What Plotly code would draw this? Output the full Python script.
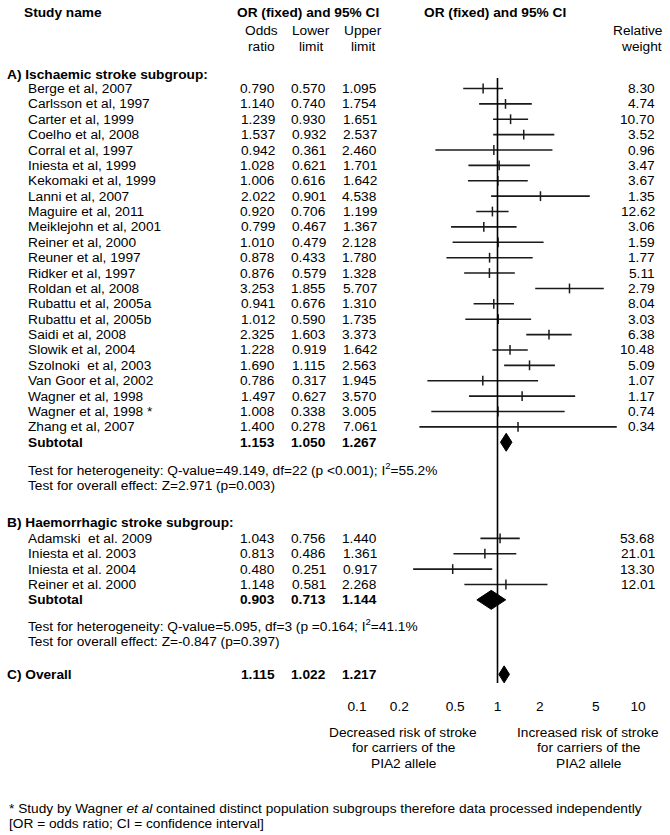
import plotly.graph_objects as go

# ---------------- data ----------------
studies_a = ["Berge et al, 2007", "Carlsson et al, 1997", "Carter et al, 1999", "Coelho et al, 2008",
             "Corral et al, 1997", "Iniesta et al, 1999", "Kekomaki et al, 1999", "Lanni et al, 2007",
             "Maguire et al, 2011", "Meiklejohn et al, 2001", "Reiner et al, 2000", "Reuner et al, 1997",
             "Ridker et al, 1997", "Roldan et al, 2008", "Rubattu et al, 2005a", "Rubattu et al, 2005b",
             "Saidi et al, 2008", "Slowik et al, 2004", "Szolnoki  et al, 2003", "Van Goor et al, 2002",
             "Wagner et al, 1998", "Wagner et al, 1998 *", "Zhang et al, 2007"]
or_a = [0.790, 1.140, 1.239, 1.537, 0.942, 1.028, 1.006, 2.022, 0.920, 0.799, 1.010, 0.878,
        0.876, 3.253, 0.941, 1.012, 2.325, 1.228, 1.690, 0.786, 1.497, 1.008, 1.400]
lo_a = [0.570, 0.740, 0.930, 0.932, 0.361, 0.621, 0.616, 0.901, 0.706, 0.467, 0.479, 0.433,
        0.579, 1.855, 0.676, 0.590, 1.603, 0.919, 1.115, 0.317, 0.627, 0.338, 0.278]
hi_a = [1.095, 1.754, 1.651, 2.537, 2.460, 1.701, 1.642, 4.538, 1.199, 1.367, 2.128, 1.780,
        1.328, 5.707, 1.310, 1.735, 3.373, 1.642, 2.563, 1.945, 3.570, 3.005, 7.061]
wt_a = [8.30, 4.74, 10.70, 3.52, 0.96, 3.47, 3.67, 1.35, 12.62, 3.06, 1.59, 1.77,
        5.11, 2.79, 8.04, 3.03, 6.38, 10.48, 5.09, 1.07, 1.17, 0.74, 0.34]

studies_b = ["Adamski  et al. 2009", "Iniesta et al. 2003", "Iniesta et al. 2004", "Reiner et al. 2000"]
or_b = [1.043, 0.813, 0.480, 1.148]
lo_b = [0.756, 0.486, 0.251, 0.581]
hi_b = [1.440, 1.361, 0.917, 2.268]
wt_b = [53.68, 21.01, 13.30, 12.01]

subtotal_a = [1.153, 1.050, 1.267]
subtotal_b = [0.903, 0.713, 1.144]
overall = [1.115, 1.022, 1.217]

het_a = "Test for heterogeneity: Q-value=49.149, df=22 (p <0.001); I<sup>2</sup>=55.2%"
eff_a = "Test for overall effect: Z=2.971 (p=0.003)"
het_b = "Test for heterogeneity: Q-value=5.095, df=3 (p =0.164; I<sup>2</sup>=41.1%"
eff_b = "Test for overall effect: Z=-0.847 (p=0.397)"

tick_vals = [0.1, 0.2, 0.5, 1, 2, 5, 10]
tick_text = ["0.1", "0.2", "0.5", "1", "2", "5", "10"]

# ---------------- layout constants ----------------
W, H = 670, 835
FONT = "Liberation Sans, Arial, sans-serif"
FS = 13.7
ROW = 15.38
BOTTOM = 696          # pixel of plot-area bottom (y data == pixel)
X0_PX, X1_PX = 357, 638  # pixel positions of 0.1 and 10
LINE = "#1a1a1a"

y_a_head = 74
y_a = [88.5 + i * ROW for i in range(len(studies_a))]
y_sub_a = y_a[-1] + ROW
y_het_a = y_sub_a + 26.5
y_eff_a = y_het_a + 16.5
y_b_head = y_eff_a + 37.5
y_b = [y_b_head + 15.6 + i * ROW for i in range(len(studies_b))]
y_sub_b = y_b[-1] + ROW
y_het_b = y_sub_b + 25
y_eff_b = y_het_b + 16.5
y_all = y_eff_b + 33

COL_OR, COL_LO, COL_HI, COL_WT = 277, 328, 379, 657

fig = go.Figure()

# CI lines
xs, ys = [], []
for lo, hi, y in zip(lo_a + lo_b, hi_a + hi_b, y_a + y_b):
    xs += [lo, hi, None]
    ys += [y, y, None]
fig.add_trace(go.Scatter(x=xs, y=ys, mode="lines", line=dict(color=LINE, width=1.6),
                         hoverinfo="skip", showlegend=False))
# point estimates
fig.add_trace(go.Scatter(x=or_a + or_b, y=y_a + y_b, mode="markers",
                         marker=dict(symbol="line-ns-open", size=7, color=LINE,
                                     line=dict(color=LINE, width=1.5)),
                         showlegend=False))

# diamonds
def diamond(vals, y, h):
    o, lo, hi = vals
    fig.add_trace(go.Scatter(x=[lo, o, hi, o, lo], y=[y, y - h, y, y + h, y],
                             mode="lines", fill="toself", fillcolor="black",
                             line=dict(color="black", width=1), hoverinfo="skip",
                             showlegend=False))

diamond(subtotal_a, y_sub_a, 9)
diamond(subtotal_b, y_sub_b, 9.5)
diamond(overall, y_all, 8.5)

# vertical no-effect line
fig.add_shape(type="line", x0=1, x1=1, y0=78, y1=683, xref="x", yref="y",
              line=dict(color="black", width=1.6))

ann = []

def txt(x, y, s, anchor="left", bold=False, size=FS):
    if bold:
        s = "<b>" + s + "</b>"
    ann.append(dict(x=x / W, y=y, xref="paper", yref="y", text=s, showarrow=False,
                    xanchor=anchor, yanchor="middle", font=dict(family=FONT, size=size, color="black")))

def txtp(x, ypx, s, anchor="left", bold=False):
    if bold:
        s = "<b>" + s + "</b>"
    ann.append(dict(x=x / W, y=1 - ypx / H, xref="paper", yref="paper", text=s, showarrow=False,
                    xanchor=anchor, yanchor="middle", font=dict(family=FONT, size=FS, color="black")))

# headers
txt(22, 12, "Study name", bold=True)
txt(308, 12, "OR (fixed) and 95% CI", anchor="center", bold=True)
txt(495, 12, "OR (fixed) and 95% CI", anchor="center", bold=True)
for cx, l1, l2 in [(261, "Odds", "ratio"), (311, "Lower", "limit"), (363, "Upper", "limit")]:
    txt(cx, 30, l1, anchor="center")
    txt(cx, 46, l2, anchor="center")
txt(664, 30, "Relative", anchor="right")
txt(664, 46, "weight", anchor="right")

def rows(names, ors, los, his, wts, ys):
    for n, o, lo, hi, w, y in zip(names, ors, los, his, wts, ys):
        txt(26, y, n)
        txt(COL_OR, y, f"{o:.3f}", anchor="right")
        txt(COL_LO, y, f"{lo:.3f}", anchor="right")
        txt(COL_HI, y, f"{hi:.3f}", anchor="right")
        txt(COL_WT, y, f"{w:.2f}", anchor="right")

def sub(vals, y, label):
    txt(26 if label == "Subtotal" else 5, y, label, bold=True)
    for col, v in zip([COL_OR, COL_LO, COL_HI], vals):
        txt(col, y, f"{v:.3f}", anchor="right", bold=True)

txt(5, y_a_head, "A) Ischaemic stroke subgroup:", bold=True)
rows(studies_a, or_a, lo_a, hi_a, wt_a, y_a)
sub(subtotal_a, y_sub_a, "Subtotal")
txt(26, y_het_a, het_a)
txt(26, y_eff_a, eff_a)

txt(5, y_b_head, "B) Haemorrhagic stroke subgroup:", bold=True)
rows(studies_b, or_b, lo_b, hi_b, wt_b, y_b)
sub(subtotal_b, y_sub_b, "Subtotal")
txt(26, y_het_b, het_b)
txt(26, y_eff_b, eff_b)

sub(overall, y_all, "C) Overall")

# direction labels
for i, (l, r) in enumerate([("Decreased risk of stroke", "Increased risk of stroke"),
                            ("for carriers of the", "for carriers of the"),
                            ("PIA2 allele", "PIA2 allele")]):
    txtp(403, 732 + i * 15.5, l, anchor="center")
    txtp(588, 732 + i * 15.5, r, anchor="center")

txtp(7, 808, "* Study by Wagner <i>et al</i> contained distinct population subgroups therefore data processed independently")
txtp(7, 823.5, "[OR = odds ratio; CI = confidence interval]")

fig.update_layout(
    width=W, height=H, margin=dict(l=0, r=0, t=0, b=0),
    paper_bgcolor="white", plot_bgcolor="white",
    annotations=ann, showlegend=False,
    xaxis=dict(type="log", range=[-1, 1], domain=[X0_PX / W, X1_PX / W],
               tickvals=tick_vals, ticktext=tick_text, ticks="", showgrid=False,
               zeroline=False, showline=False, automargin=False,
               tickfont=dict(family=FONT, size=FS, color="black")),
    yaxis=dict(range=[BOTTOM, 0], domain=[1 - BOTTOM / H, 1], visible=False,
               showgrid=False, zeroline=False, automargin=False),
)

fig.write_html(
    "out.html",
    config={"displayModeBar": False},
    post_script="document.body.style.margin='0';document.body.style.overflow='hidden';"
                "document.documentElement.style.overflow='hidden';",
)
